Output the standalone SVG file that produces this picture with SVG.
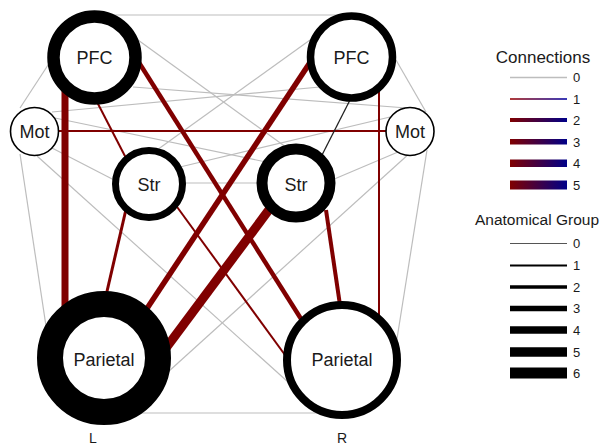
<svg xmlns="http://www.w3.org/2000/svg" width="608" height="445" viewBox="0 0 608 445">
<defs>
<linearGradient id="rb" x1="0" y1="0" x2="1" y2="0">
<stop offset="0" stop-color="#800000"/>
<stop offset="1" stop-color="#000088"/>
</linearGradient>
<linearGradient id="rb1" x1="0" y1="0" x2="1" y2="0">
<stop offset="0" stop-color="#b03a3a"/>
<stop offset="1" stop-color="#3a3ab8"/>
</linearGradient>
<style>
text{font-family:"Liberation Sans",Arial,sans-serif;fill:#1a1a1a}
.g{stroke:#bdbdbd;stroke-width:1.2;fill:none}
.r{stroke:#800000;fill:none}
.k{stroke:#222;stroke-width:1.3;fill:none}
.node{fill:#fff;stroke:#000}
.nl{font-size:18px;text-anchor:middle}
.lg{font-size:13px}
.la{stroke:#000}
</style>
</defs>
<rect width="608" height="445" fill="#fff"/>
<g id="connectors">
<line class="g" x1="110" y1="15" x2="342" y2="15"/>
<line class="g" x1="20" y1="108" x2="50" y2="62"/>
<line class="g" x1="138" y1="40" x2="290" y2="150"/>
<line class="g" x1="133" y1="87" x2="420" y2="109"/>
<line class="g" x1="396" y1="60" x2="426" y2="112"/>
<line class="g" x1="157" y1="150" x2="310" y2="40"/>
<line class="g" x1="52" y1="112" x2="320" y2="87"/>
<line class="g" x1="52" y1="148" x2="118" y2="182"/>
<line class="g" x1="55" y1="118" x2="266" y2="162"/>
<line class="g" x1="20" y1="154" x2="46" y2="326"/>
<line class="g" x1="37" y1="156" x2="288" y2="382"/>
<line class="g" x1="180" y1="167" x2="390" y2="117"/>
<line class="g" x1="332" y1="180" x2="398" y2="152"/>
<line class="g" x1="168" y1="372" x2="411" y2="152"/>
<line class="g" x1="427" y1="150" x2="396" y2="345"/>
<line class="g" x1="180" y1="183" x2="262" y2="183"/>
<line class="g" x1="138" y1="413" x2="320" y2="413"/>
<line class="r" stroke-width="2" x1="58" y1="131" x2="387" y2="131"/>
<line class="r" stroke-width="2" x1="379" y1="90" x2="379" y2="315"/>
<line class="r" stroke-width="2" x1="96" y1="100" x2="127" y2="160"/>
<line class="r" stroke-width="2" x1="172" y1="200" x2="285" y2="355"/>
<line class="r" stroke-width="3" x1="127" y1="205" x2="105" y2="300"/>
<line class="r" stroke-width="4" x1="326" y1="210" x2="340" y2="305"/>
<line class="r" stroke-width="4.5" x1="138" y1="61" x2="303" y2="322"/>
<line class="r" stroke-width="5.5" x1="311" y1="61" x2="144" y2="313"/>
<line class="r" stroke-width="7" x1="65" y1="90" x2="65" y2="310"/>
<line class="r" stroke-width="9" x1="274" y1="203" x2="166" y2="348"/>
<line class="k" x1="350" y1="100" x2="321" y2="157"/>
</g>
<g id="node-pfc-l"><circle class="node" cx="94.5" cy="57.5" r="41" stroke-width="12.5"/><text class="nl" x="94.5" y="64">PFC</text></g>
<g id="node-pfc-r"><circle class="node" cx="351.5" cy="57" r="41" stroke-width="7.5"/><text class="nl" x="351.5" y="64">PFC</text></g>
<g id="node-mot-l"><circle class="node" cx="34.5" cy="131.5" r="24" stroke-width="1.6"/><text class="nl" x="34.5" y="138">Mot</text></g>
<g id="node-mot-r"><circle class="node" cx="410" cy="131.5" r="24" stroke-width="1.6"/><text class="nl" x="410" y="138">Mot</text></g>
<g id="node-str-l"><circle class="node" cx="149" cy="184" r="33.5" stroke-width="7"/><text class="nl" x="149" y="191">Str</text></g>
<g id="node-str-r"><circle class="node" cx="296" cy="183" r="34" stroke-width="11"/><text class="nl" x="296" y="191">Str</text></g>
<g id="node-par-l"><circle class="node" cx="104" cy="358" r="54" stroke-width="26"/><text class="nl" x="104" y="366">Parietal</text></g>
<g id="node-par-r"><circle class="node" cx="342" cy="360" r="55" stroke-width="8"/><text class="nl" x="342" y="366">Parietal</text></g>
<text x="93" y="443" font-size="14" text-anchor="middle">L</text>
<text x="342" y="443" font-size="14" text-anchor="middle">R</text>
<g id="legend-connections">
<text x="543" y="63" font-size="17" text-anchor="middle">Connections</text>
<line x1="510" y1="77.5" x2="567" y2="77.5" stroke="#bdbdbd" stroke-width="1.3"/>
<rect x="510" y="98" width="57" height="2" fill="url(#rb1)"/>
<rect x="510" y="118" width="57" height="4" fill="url(#rb)"/>
<rect x="510" y="139" width="57" height="5.5" fill="url(#rb)"/>
<rect x="510" y="159.5" width="57" height="7.5" fill="url(#rb)"/>
<rect x="510" y="180.5" width="57" height="9" fill="url(#rb)"/>
<text class="lg" x="573" y="82">0</text>
<text class="lg" x="573" y="104">1</text>
<text class="lg" x="573" y="125">2</text>
<text class="lg" x="573" y="146.5">3</text>
<text class="lg" x="573" y="168">4</text>
<text class="lg" x="573" y="190">5</text>
</g>
<g id="legend-anatomical">
<text x="537" y="225" font-size="15.5" text-anchor="middle">Anatomical Group</text>
<line x1="510" y1="243.5" x2="567" y2="243.5" stroke="#555" stroke-width="1.2"/>
<line class="la" x1="510" y1="265.5" x2="567" y2="265.5" stroke-width="2"/>
<line class="la" x1="510" y1="287" x2="567" y2="287" stroke-width="3.5"/>
<line class="la" x1="510" y1="308.5" x2="567" y2="308.5" stroke-width="5.5"/>
<line class="la" x1="510" y1="330" x2="567" y2="330" stroke-width="7.3"/>
<line class="la" x1="510" y1="352" x2="567" y2="352" stroke-width="9.3"/>
<line class="la" x1="510" y1="373" x2="567" y2="373" stroke-width="11"/>
<text class="lg" x="573" y="248">0</text>
<text class="lg" x="573" y="270">1</text>
<text class="lg" x="573" y="291.5">2</text>
<text class="lg" x="573" y="313">3</text>
<text class="lg" x="573" y="334.5">4</text>
<text class="lg" x="573" y="356.5">5</text>
<text class="lg" x="573" y="377.5">6</text>
</g>
</svg>
